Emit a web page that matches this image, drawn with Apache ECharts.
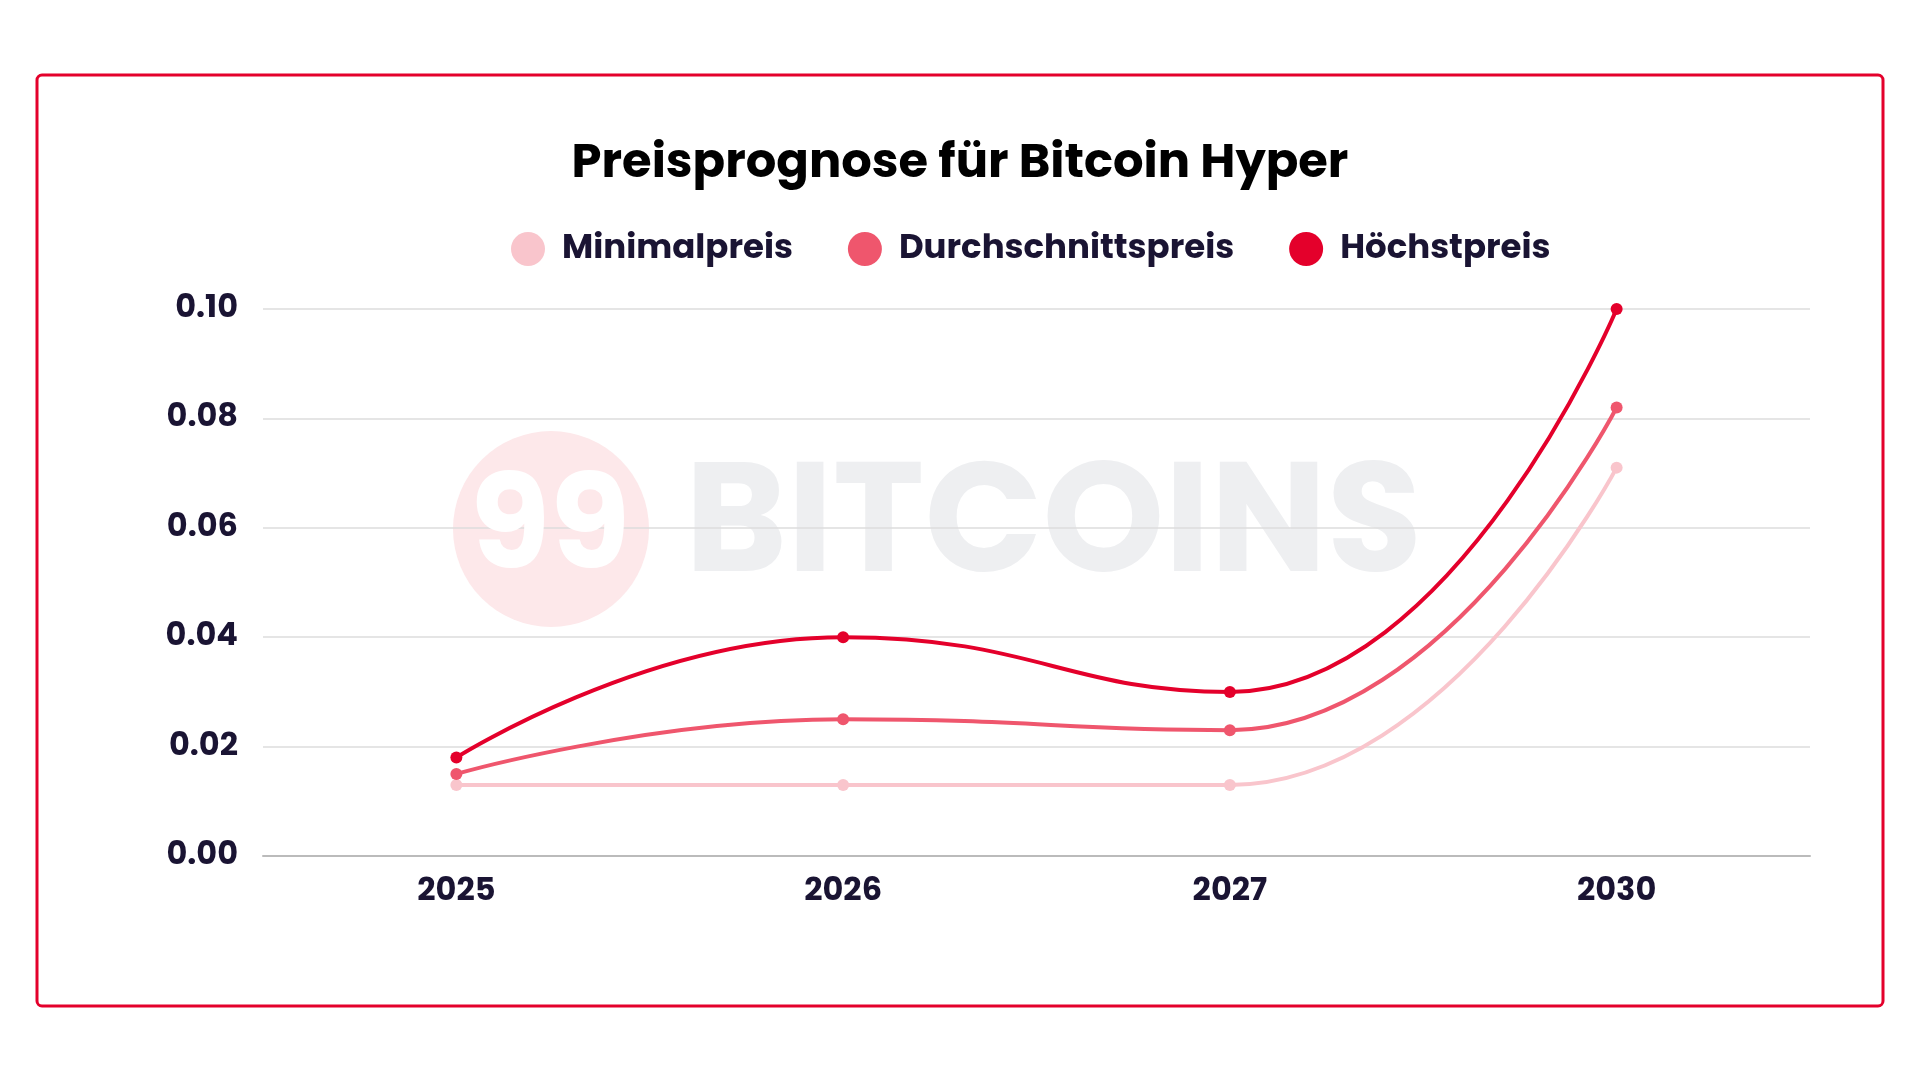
<!DOCTYPE html>
<html><head><meta charset="utf-8">
<script src="https://cdn.jsdelivr.net/npm/echarts@6/dist/echarts.min.js"></script>
<style>html,body{margin:0;padding:0;background:#fff}#c{width:1920px;height:1080px}</style>
</head><body><div id="c"></div>
<script>
const years = ['2025','2026','2027','2030'];
const minPrice = [0.013, 0.013, 0.013, 0.071];
const avgPrice = [0.015, 0.025, 0.023, 0.082];
const maxPrice = [0.018, 0.040, 0.030, 0.100];
const yTicks = {min:0, max:0.10, interval:0.02};
const font = 'Poppins, "Open Sans", Inter, sans-serif';
const chart = echarts.init(document.getElementById('c'));
function s(name, data, color){
  return {name, type:'line', data, smooth:0.5, symbol:'circle', symbolSize:12,
    lineStyle:{color, width:4}, itemStyle:{color}, z:3};
}
chart.setOption({
  backgroundColor:'#fff',
  graphic:[
    {type:'rect', shape:{x:37,y:75,width:1846,height:931,r:5}, style:{fill:'none',stroke:'#e4002b',lineWidth:3}, z:0},
    {type:'circle', shape:{cx:551,cy:529,r:98}, style:{fill:'#fde8ea'}, z:0},
    {type:'text', left:470, top:470, style:{text:'99', font:'bold 130px '+font, fill:'#fff'}, z:1},
    {type:'text', left:685, top:455, style:{text:'BITCOINS', font:'bold 155px '+font, fill:'#eeeff1'}, z:0}
  ],
  title:{text:'Preisprognose für Bitcoin Hyper', left:'center', top:136,
    textStyle:{fontFamily:font, fontWeight:'bold', fontSize:48, color:'#000'}},
  legend:{top:227, left:506, itemGap:55, icon:'circle', itemWidth:34, itemHeight:34,
    textStyle:{fontFamily:font, fontWeight:'bold', fontSize:34, color:'#1a1433', padding:[0,0,0,12]},
    data:['Minimalpreis','Durchschnittspreis','Höchstpreis']},
  grid:{left:263, right:110, top:309, bottom:224},
  xAxis:{type:'category', data:years, boundaryGap:true,
    axisLine:{lineStyle:{color:'#bbb', width:2}}, axisTick:{show:false},
    axisLabel:{fontFamily:font, fontWeight:'bold', fontSize:32, color:'#1a1433', margin:20}},
  yAxis:{type:'value', min:yTicks.min, max:yTicks.max, interval:yTicks.interval,
    axisLine:{show:false}, axisTick:{show:false},
    splitLine:{lineStyle:{color:'#ddd', width:1.5}},
    axisLabel:{fontFamily:font, fontWeight:'bold', fontSize:32, color:'#1a1433', margin:25,
      formatter:v=>v.toFixed(2)}},
  series:[
    s('Minimalpreis', minPrice, '#f9c5cc'),
    s('Durchschnittspreis', avgPrice, '#ef566d'),
    s('Höchstpreis', maxPrice, '#e4002b')
  ]
});
</script></body></html>
